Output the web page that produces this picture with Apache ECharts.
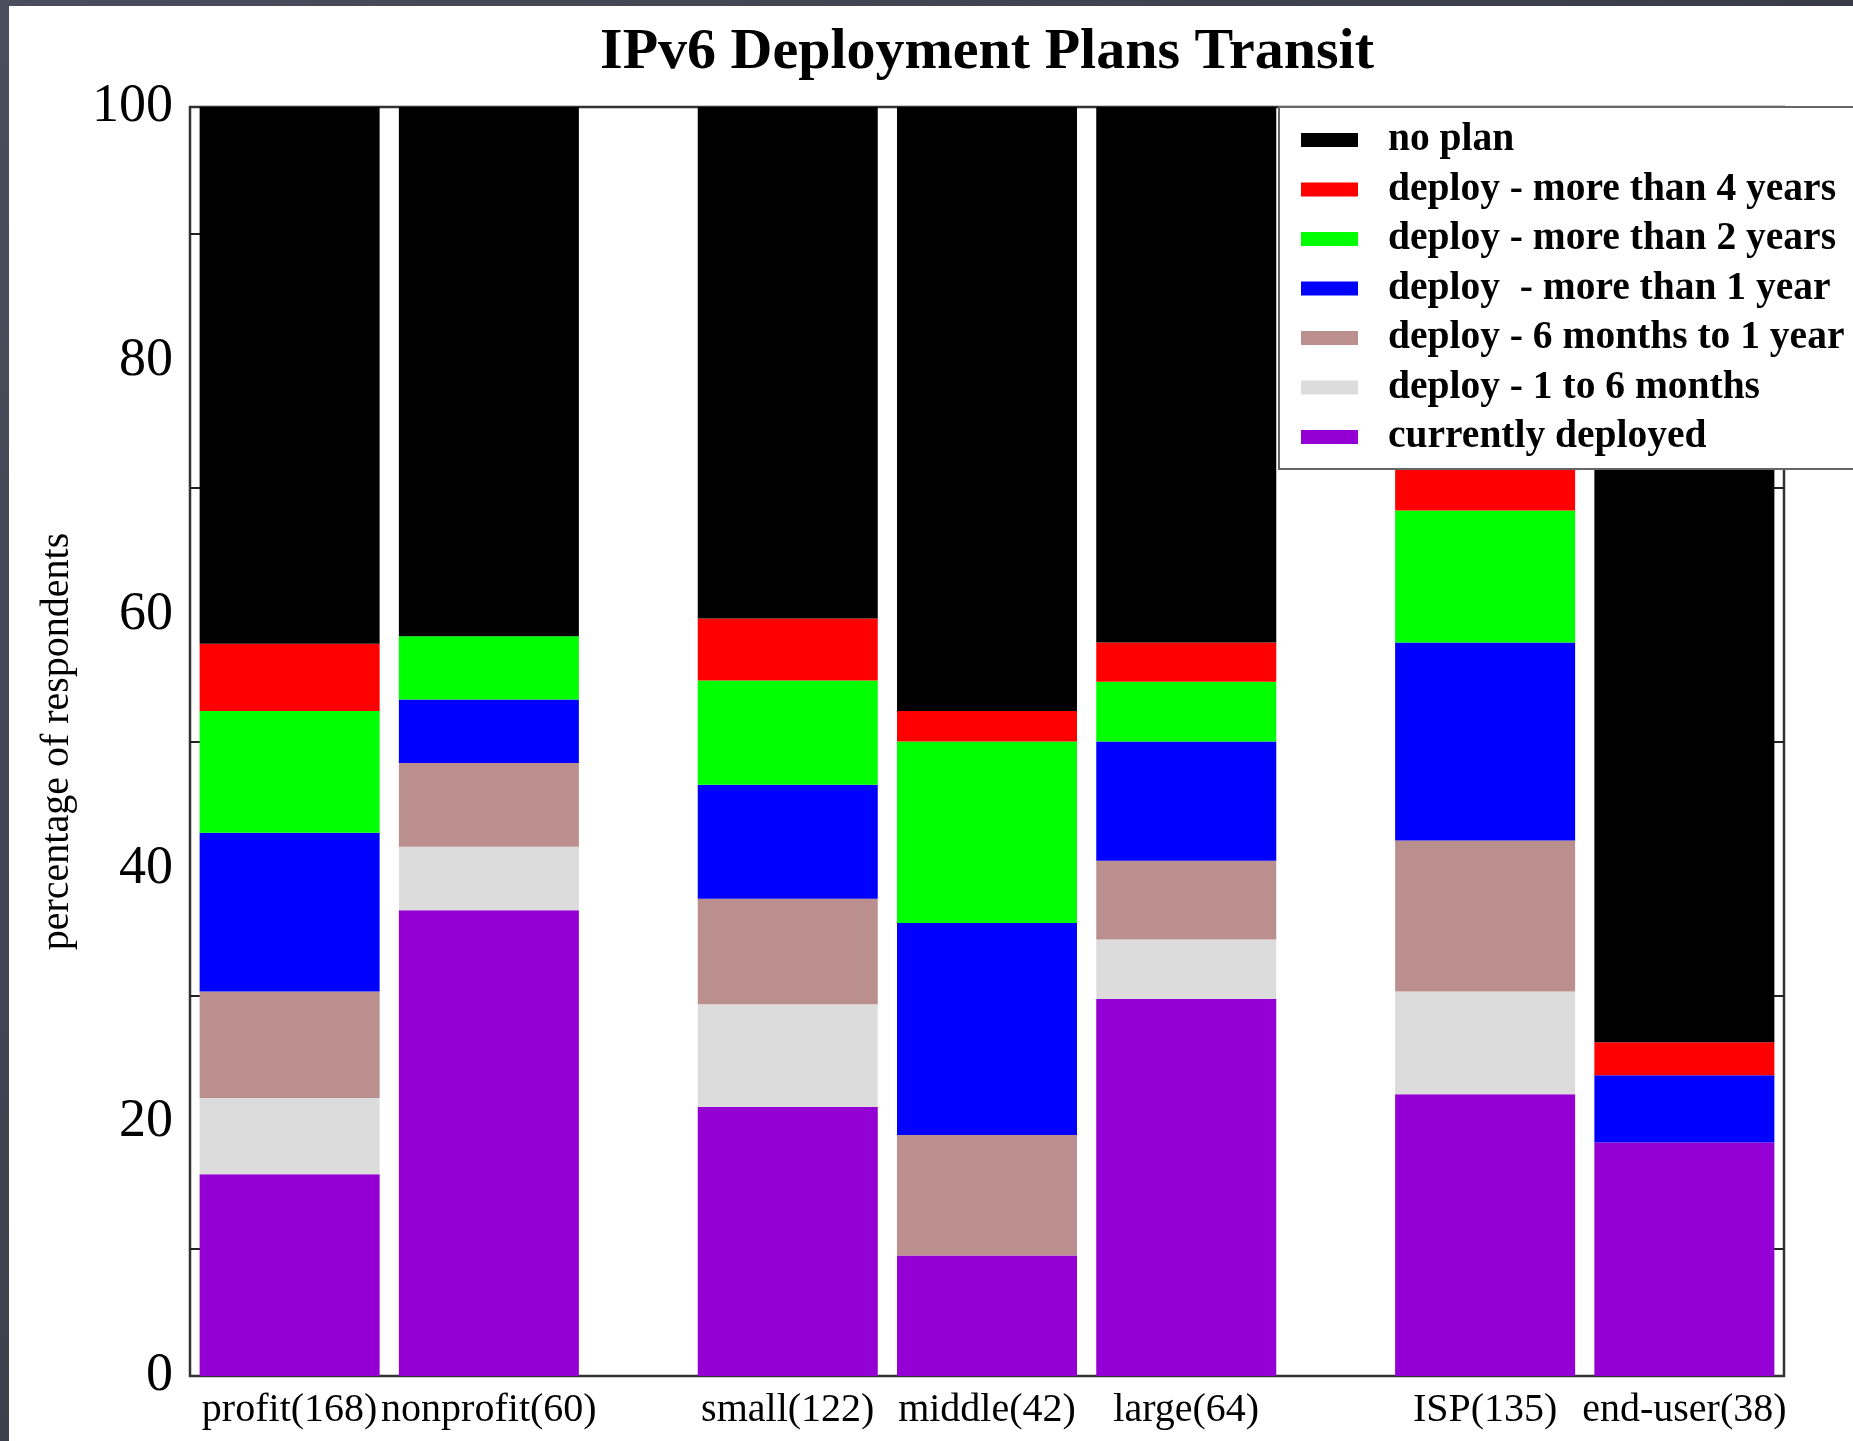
<!DOCTYPE html>
<html>
<head>
<meta charset="utf-8">
<script src="https://cdn.jsdelivr.net/npm/echarts@6/dist/echarts.min.js"></script>
<style>
    html, body { margin: 0; padding: 0; }
    body { width: 1853px; height: 1441px; background: linear-gradient(135deg, #4a4e5c, #2c2f37); overflow: hidden; position: relative; }
    #myChart { position: absolute; left: 9px; top: 6px; width: 1844px; height: 1435px; background: #fff; }
</style>
</head>
<body>
<div id="myChart"></div>
<script>
// groups of respondents (bar labels)
var groups = ['profit(168)', 'nonprofit(60)', 'small(122)', 'middle(42)', 'large(64)', 'ISP(135)', 'end-user(38)'];

// percentage of respondents per answer, one value per group
var currentlyDeployed = [15.9, 36.7, 21.2, 9.5, 29.7, 22.2, 18.4];
var oneToSixMonths    = [6.0, 5.0, 8.1, 0, 4.7, 8.1, 0];
var sixMonthsToYear   = [8.4, 6.6, 8.3, 9.5, 6.2, 11.9, 0];
var moreThan1Year     = [12.5, 5.0, 9.0, 16.7, 9.4, 15.6, 5.3];
var moreThan2Years    = [9.6, 5.0, 8.2, 14.3, 4.7, 10.4, 0];
var moreThan4Years    = [5.3, 0, 4.9, 2.4, 3.1, 4.4, 2.6];
var noPlan            = [42.3, 41.7, 40.3, 47.6, 42.2, 27.4, 73.7];

var yTicks = [0, 20, 40, 60, 80, 100];

// the bars sit in three groups with half-width gaps between them,
// so the x axis is split in half slots and each bar goes on one of them
var halfSlots = 17;
var barSlot = [1, 3, 6, 8, 10, 13, 15];

var xAxisData = [];
for (var i = 0; i < halfSlots; i++) {
    xAxisData.push('');
}
for (var i = 0; i < groups.length; i++) {
    xAxisData[barSlot[i]] = groups[i];
}

function toSlots(values) {
    var out = [];
    for (var i = 0; i < halfSlots; i++) {
        out.push('-');
    }
    for (var i = 0; i < values.length; i++) {
        out[barSlot[i]] = values[i];
    }
    return out;
}

var serif = 'Liberation Serif';

var seriesDefs = [
    {name: 'currently deployed', data: currentlyDeployed, color: '#9400d3'},
    {name: 'deploy - 1 to 6 months', data: oneToSixMonths, color: '#dcdcdc'},
    {name: 'deploy - 6 months to 1 year', data: sixMonthsToYear, color: '#bc8f8f'},
    {name: 'deploy  - more than 1 year', data: moreThan1Year, color: '#0000ff'},
    {name: 'deploy - more than 2 years', data: moreThan2Years, color: '#00ff00'},
    {name: 'deploy - more than 4 years', data: moreThan4Years, color: '#ff0000'},
    {name: 'no plan', data: noPlan, color: '#000000'}
];

var series = [];
for (var i = 0; i < seriesDefs.length; i++) {
    series.push({
        name: seriesDefs[i].name,
        type: 'bar',
        stack: 'all',
        barWidth: 180,
        itemStyle: {color: seriesDefs[i].color},
        emphasis: {disabled: true},
        data: toSlots(seriesDefs[i].data)
    });
}

var legendOrder = [];
for (var i = seriesDefs.length - 1; i >= 0; i--) {
    legendOrder.push(seriesDefs[i].name);
}

var yAxisCommon = {
    type: 'value',
    min: yTicks[0],
    max: yTicks[yTicks.length - 1],
    interval: yTicks[1] - yTicks[0],
    axisLine: {show: false},
    axisTick: {show: false, inside: true},
    minorTick: {show: true, splitNumber: 2, length: 13, lineStyle: {color: '#222', width: 2}},
    splitLine: {show: false}
};

var myChart = echarts.init(document.getElementById('myChart'));
var option = {
    animation: false,
    backgroundColor: '#fff',
    title: {
        text: 'IPv6 Deployment Plans Transit',
        left: 978,
        top: 18,
        textAlign: 'center',
        padding: 0,
        textStyle: {fontFamily: serif, fontWeight: 'bold', fontSize: 58, color: '#000'}
    },
    legend: {
        orient: 'vertical',
        left: 1270,
        top: 101,
        data: legendOrder,
        icon: 'rect',
        itemWidth: 57,
        itemHeight: 14,
        itemGap: 9.5,
        padding: [13, 80, 12, 22],
        backgroundColor: '#fff',
        borderColor: '#666',
        borderWidth: 2,
        selectedMode: false,
        textStyle: {fontFamily: serif, fontWeight: 'bold', fontSize: 39.5, lineHeight: 40, color: '#000', padding: [0, 0, 0, 25]}
    },
    grid: {
        show: true,
        left: 181,
        top: 101,
        right: 69,
        bottom: 65,
        borderColor: '#333',
        borderWidth: 2.5,
        backgroundColor: 'transparent',
        containLabel: false
    },
    xAxis: {
        type: 'category',
        data: xAxisData,
        boundaryGap: false,
        axisLine: {show: false},
        axisTick: {show: false},
        splitLine: {show: false},
        axisLabel: {interval: 0, margin: 14, fontFamily: serif, fontSize: 40, color: '#000'}
    },
    yAxis: [
        Object.assign({}, yAxisCommon, {
            position: 'left',
            name: 'percentage of respondents',
            nameLocation: 'middle',
            nameGap: 113,
            nameTextStyle: {fontFamily: serif, fontSize: 40, color: '#000'},
            axisLabel: {margin: 17, fontFamily: serif, fontSize: 54, color: '#000'}
        }),
        Object.assign({}, yAxisCommon, {
            position: 'right',
            axisLabel: {show: false}
        })
    ],
    series: series
};
myChart.setOption(option);
</script>
</body>
</html>
